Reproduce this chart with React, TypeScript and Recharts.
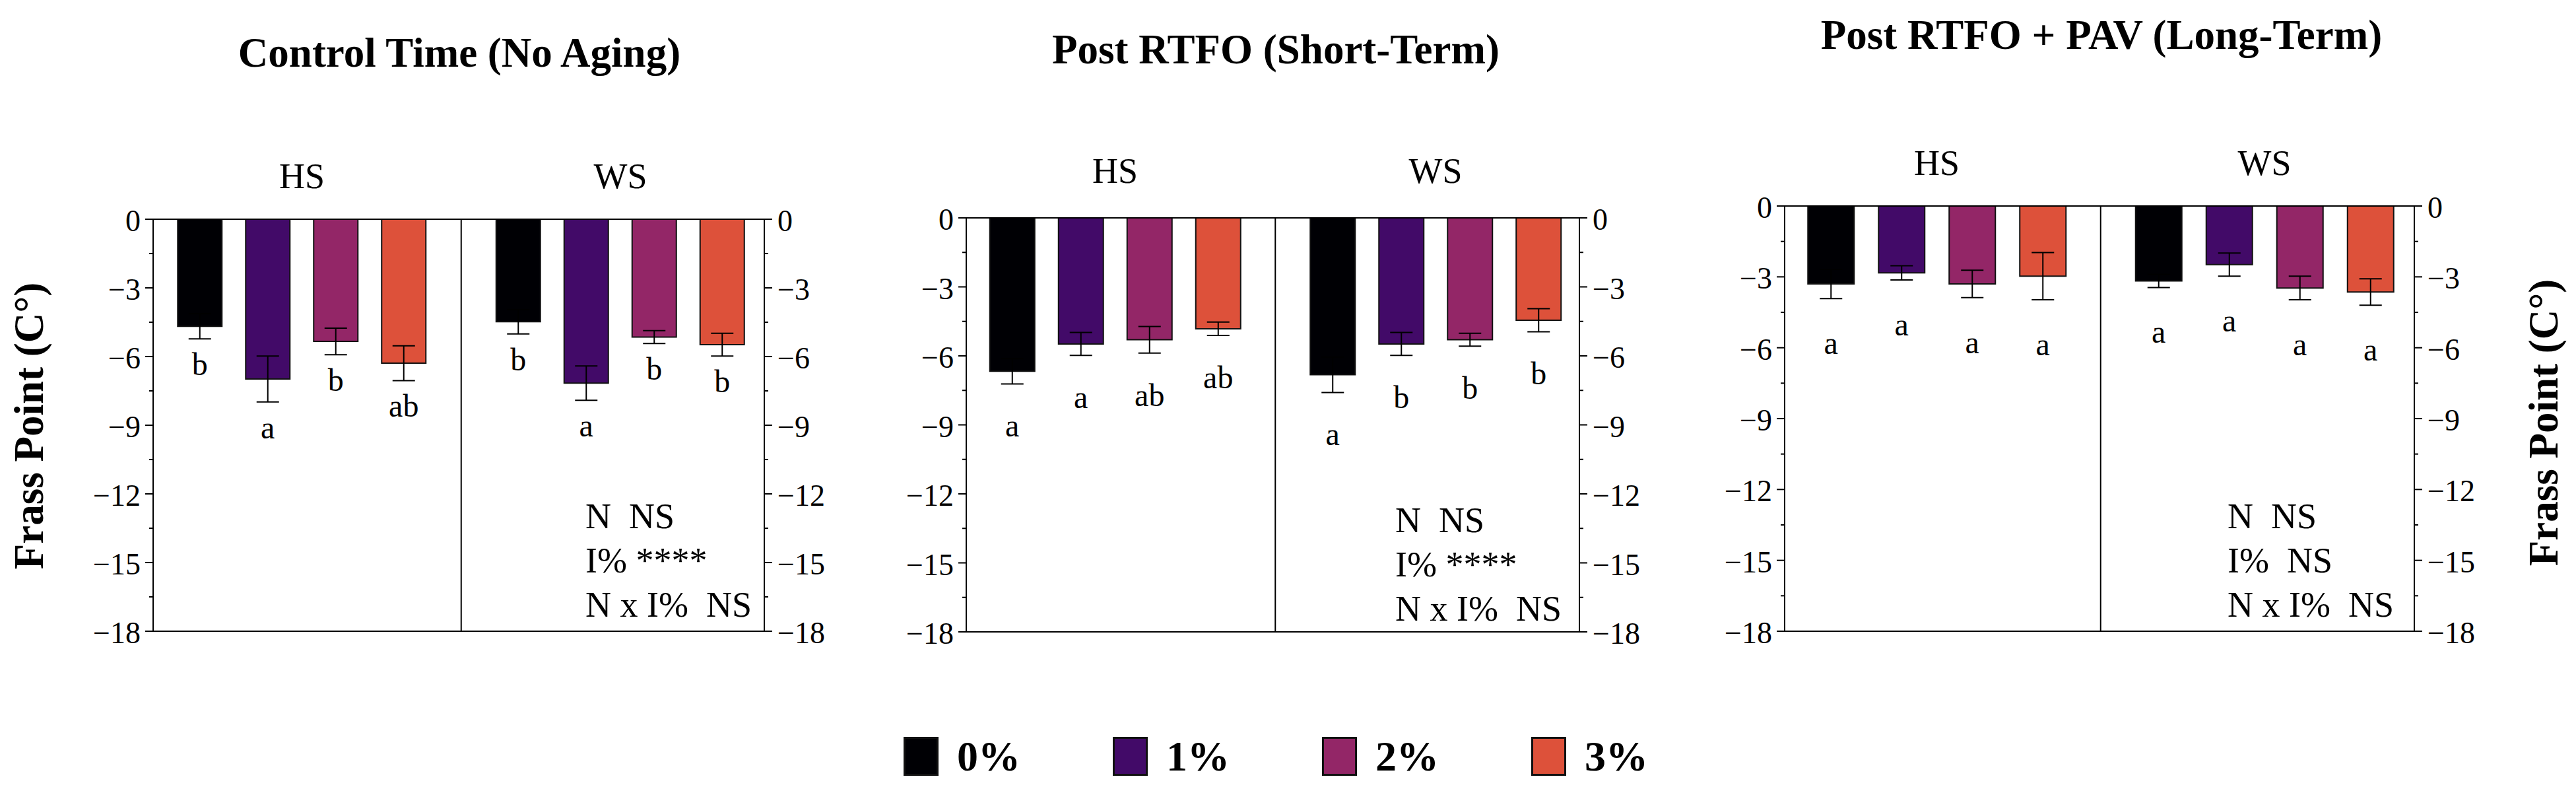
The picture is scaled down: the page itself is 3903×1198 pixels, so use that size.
import React from "react";
import { BarChart, Bar, XAxis, YAxis, ErrorBar, LabelList, ReferenceLine } from "recharts";

const FONT = "'Liberation Serif', 'Times New Roman', serif";

const groups = ["HS", "WS"];
const levels = ["0%", "1%", "2%", "3%"];
const levelColors = ["#000004", "#420a68", "#932667", "#dd513a"];

// rows: HS, WS ; columns: 0%, 1%, 2%, 3%
const controlMean = [[-4.68, -6.98, -5.34, -6.29], [-4.48, -7.16, -5.15, -5.48]];
const controlErr = [[0.55, 1.0, 0.58, 0.76], [0.53, 0.75, 0.28, 0.5]];
const controlLetters = [["b", "a", "b", "ab"], ["b", "a", "b", "b"]];
const controlStats = ["N  NS", "I% ****", "N x I%  NS"];

const rtfoMean = [[-6.67, -5.48, -5.3, -4.82], [-6.82, -5.48, -5.3, -4.45]];
const rtfoErr = [[0.55, 0.5, 0.58, 0.29], [0.77, 0.5, 0.28, 0.5]];
const rtfoLetters = [["a", "a", "ab", "ab"], ["a", "b", "b", "b"]];
const rtfoStats = ["N  NS", "I% ****", "N x I%  NS"];

const pavMean = [[-3.3, -2.83, -3.3, -2.97], [-3.17, -2.48, -3.47, -3.64]];
const pavErr = [[0.62, 0.3, 0.58, 1.0], [0.28, 0.49, 0.5, 0.56]];
const pavLetters = [["a", "a", "a", "a"], ["a", "a", "a", "a"]];
const pavStats = ["N  NS", "I%  NS", "N x I%  NS"];

const yTicks = [0, -1.5, -3, -4.5, -6, -7.5, -9, -10.5, -12, -13.5, -15, -16.5, -18];
const yLabel = "Frass Point (C°)";

function buildRows(mean: number[][], err: number[][], letters: string[][]) {
  return groups.map((g, gi) => {
    const row: any = { group: g };
    levels.forEach((_, li) => {
      row[`m${li}`] = mean[gi][li];
      row[`e${li}`] = err[gi][li];
      row[`l${li}`] = letters[gi][li];
    });
    return row;
  });
}

const panels = [
  {
    title: "Control Time (No Aging)", rows: buildRows(controlMean, controlErr, controlLetters), stats: controlStats,
    left: 0, width: 1300, plotLeft: 232, plotRight: 1158, plotTop: 332, plotBottom: 956,
    padL: -15.75, padR: -23.25, barSize: 67, barGap: 36, letterGap: 55, groupGap: 47,
    titleX: 696, titleY: 101, statsX: 887, statsY: 800,
  },
  {
    title: "Post RTFO (Short-Term)", rows: buildRows(rtfoMean, rtfoErr, rtfoLetters), stats: rtfoStats,
    left: 1300, width: 1300, plotLeft: 1464, plotRight: 2393, plotTop: 330, plotBottom: 957,
    padL: -17.25, padR: -24.75, barSize: 68, barGap: 36, letterGap: 80, groupGap: 53,
    titleX: 1933, titleY: 96, statsX: 2114, statsY: 806,
  },
  {
    title: "Post RTFO + PAV (Long-Term)", rows: buildRows(pavMean, pavErr, pavLetters), stats: pavStats,
    left: 2600, width: 1303, plotLeft: 2704, plotRight: 3658, plotTop: 312, plotBottom: 956,
    padL: -17.75, padR: -21.25, barSize: 70, barGap: 37, letterGap: 84, groupGap: 47,
    titleX: 3184, titleY: 74, statsX: 3375, statsY: 800,
  },
];

const fmt = (v: number) => (v === 0 ? "0" : "\u2212" + Math.abs(v));

const LeftTick = (p: any) => {
  const v = p.payload.value;
  const major = v % 3 === 0;
  return (
    <g>
      <line x1={p.x} x2={p.x - (major ? 12 : 6)} y1={p.y} y2={p.y} stroke="#000" strokeWidth={2} />
      {major && (
        <text x={p.x - 19} y={p.y + 18} textAnchor="end" fontSize={46} fontFamily={FONT} fill="#000">
          {fmt(v)}
        </text>
      )}
    </g>
  );
};

const RightTick = (p: any) => {
  const v = p.payload.value;
  const major = v % 3 === 0;
  return (
    <g>
      <line x1={p.x} x2={p.x + (major ? 12 : 6)} y1={p.y} y2={p.y} stroke="#000" strokeWidth={2} />
      {major && (
        <text x={p.x + 20} y={p.y + 18} textAnchor="start" fontSize={46} fontFamily={FONT} fill="#000">
          {fmt(v)}
        </text>
      )}
    </g>
  );
};

function makeLetter(rows: any[], li: number, gap: number) {
  return (p: any) => {
    const row = rows[p.index];
    if (!row) return null;
    const mean = row[`m${li}`];
    const err = row[`e${li}`];
    const pxPerUnit = Math.abs(p.height / mean);
    const bottom = Math.max(p.y, p.y + p.height);
    return (
      <text x={p.x + p.width / 2} y={bottom + err * pxPerUnit + gap} textAnchor="middle"
        fontSize={48} fontFamily={FONT} fill="#000">
        {row[`l${li}`]}
      </text>
    );
  };
}

const TOP_AXIS_H = 80;
const BOT_AXIS_H = 10;

function Panel({ cfg }: { cfg: any }) {
  const height = 1198;
  const margin = {
    top: cfg.plotTop - TOP_AXIS_H,
    bottom: height - cfg.plotBottom - BOT_AXIS_H,
    left: cfg.plotLeft - cfg.left - 100,
    right: cfg.left + cfg.width - cfg.plotRight - 100,
  };
  const axisLine = { stroke: "#000", strokeWidth: 2 };
  const GroupTick = (p: any) => (
    <text x={p.x} y={p.y - cfg.groupGap} textAnchor="middle" fontSize={54} fontFamily={FONT} fill="#000">
      {p.payload.value}
    </text>
  );
  return (
    <div style={{ position: "absolute", left: cfg.left, top: 0 }}>
      <BarChart width={cfg.width} height={height} data={cfg.rows} margin={margin}
        barSize={cfg.barSize} barGap={cfg.barGap}>
        <XAxis xAxisId="top" dataKey="group" orientation="top" height={TOP_AXIS_H}
          padding={{ left: cfg.padL, right: cfg.padR }} tickLine={false} tickSize={0} tickMargin={0}
          axisLine={axisLine} interval={0} tick={GroupTick} />
        <XAxis xAxisId="bot" dataKey="group" orientation="bottom" height={BOT_AXIS_H} tick={false}
          tickLine={false} axisLine={axisLine} />
        <YAxis yAxisId="left" orientation="left" type="number" domain={[-18, 0]} ticks={yTicks}
          allowDataOverflow interval={0} width={100} tickSize={0} tickMargin={0} tickLine={false}
          axisLine={axisLine} tick={LeftTick} />
        <YAxis yAxisId="right" orientation="right" type="number" domain={[-18, 0]} ticks={yTicks}
          allowDataOverflow interval={0} width={100} tickSize={0} tickMargin={0} tickLine={false}
          axisLine={axisLine} tick={RightTick} />
        <ReferenceLine xAxisId="top" yAxisId="left" x="WS" position="start" stroke="#000" strokeWidth={2} />
        {levels.map((lv, li) => (
          <Bar key={lv} name={lv} xAxisId="top" yAxisId="left" dataKey={`m${li}`} fill={levelColors[li]}
            stroke="#111" strokeWidth={2} isAnimationActive={false}>
            <ErrorBar dataKey={`e${li}`} direction="y" width={17} stroke="#000" strokeWidth={2} />
            <LabelList dataKey={`l${li}`} content={makeLetter(cfg.rows, li, cfg.letterGap)} />
          </Bar>
        ))}
      </BarChart>
    </div>
  );
}

export default function App() {
  return (
    <div style={{ position: "absolute", left: 0, top: 0, width: 3903, height: 1198, background: "#fff", overflow: "hidden" }}>
      {panels.map((cfg) => (
        <Panel key={cfg.title} cfg={cfg} />
      ))}
      <svg width={3903} height={1198} style={{ position: "absolute", left: 0, top: 0, pointerEvents: "none" }}>
        {panels.map((cfg) => (
          <g key={cfg.title}>
            <text x={cfg.titleX} y={cfg.titleY} textAnchor="middle" fontSize={63} fontWeight="bold" fontFamily={FONT}>
              {cfg.title}
            </text>
            {cfg.stats.map((s: string, i: number) => (
              <text key={i} x={cfg.statsX} y={cfg.statsY + i * 67} fontSize={54} fontFamily={FONT}
                style={{ whiteSpace: "pre" }}>
                {s}
              </text>
            ))}
          </g>
        ))}
        <text transform="translate(65,645) rotate(-90)" textAnchor="middle" fontSize={63} fontWeight="bold" fontFamily={FONT}>
          {yLabel}
        </text>
        <text transform="translate(3875,640) rotate(-90)" textAnchor="middle" fontSize={63} fontWeight="bold" fontFamily={FONT}>
          {yLabel}
        </text>
      </svg>
      <div style={{ position: "absolute", left: 1369, top: 1116, display: "flex", gap: 140, alignItems: "center", fontFamily: FONT }}>
        {levels.map((lv, li) => (
          <div key={lv} style={{ display: "flex", alignItems: "center" }}>
            <div style={{ width: 53, height: 59, boxSizing: "border-box", background: levelColors[li], border: "3px solid #111" }} />
            <span style={{ marginLeft: 28, fontSize: 64, fontWeight: "bold", lineHeight: "59px" }}>{lv}</span>
          </div>
        ))}
      </div>
    </div>
  );
}
